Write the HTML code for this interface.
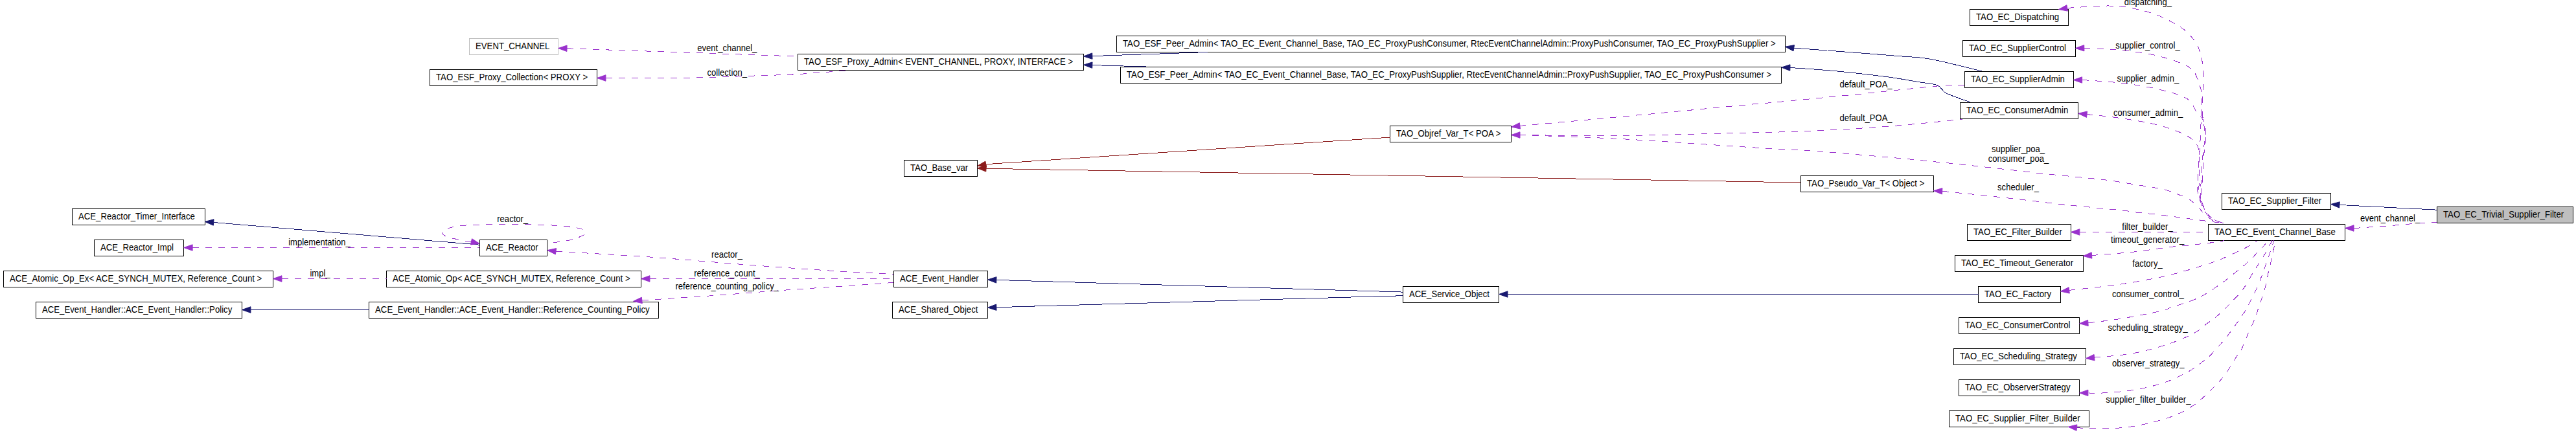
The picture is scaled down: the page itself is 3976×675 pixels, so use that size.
<!DOCTYPE html>
<html><head><meta charset="utf-8"><title>TAO_EC_Trivial_Supplier_Filter collaboration graph</title>
<style>html,body{margin:0;padding:0;background:#fff}svg{display:block}text{font-family:"Liberation Sans",sans-serif;font-size:13.33px;fill:#000}.e{fill:none;stroke-width:1}.d{stroke-dasharray:10 10}</style></head><body>
<svg width="3976" height="675" viewBox="0 0 3976 675">
<rect width="3976" height="675" fill="#fff"/>
<g shape-rendering="crispEdges">
<rect x="724.5" y="59.5" width="137" height="25" fill="#fff" stroke="#bfbfbf"/>
<rect x="663.5" y="107.5" width="258" height="25" fill="#fff" stroke="#000"/>
<rect x="1231.5" y="83.5" width="441" height="25" fill="#fff" stroke="#000"/>
<rect x="1723.5" y="55.5" width="1032" height="25" fill="#fff" stroke="#000"/>
<rect x="1729.5" y="103.5" width="1020" height="25" fill="#fff" stroke="#000"/>
<rect x="3040.5" y="14.5" width="152" height="25" fill="#fff" stroke="#000"/>
<rect x="3029.5" y="62.5" width="174" height="25" fill="#fff" stroke="#000"/>
<rect x="3032.5" y="110.5" width="168" height="25" fill="#fff" stroke="#000"/>
<rect x="3025.5" y="158.5" width="182" height="25" fill="#fff" stroke="#000"/>
<rect x="2145.5" y="194.5" width="187" height="25" fill="#fff" stroke="#000"/>
<rect x="1395.5" y="247.5" width="113" height="25" fill="#fff" stroke="#000"/>
<rect x="2779.5" y="271.5" width="205" height="25" fill="#fff" stroke="#000"/>
<rect x="111.5" y="322.5" width="205" height="25" fill="#fff" stroke="#000"/>
<rect x="145.5" y="370.5" width="138" height="25" fill="#fff" stroke="#000"/>
<rect x="740.5" y="370.5" width="104" height="25" fill="#fff" stroke="#000"/>
<rect x="5.5" y="418.5" width="416" height="25" fill="#fff" stroke="#000"/>
<rect x="596.5" y="418.5" width="393" height="25" fill="#fff" stroke="#000"/>
<rect x="55.5" y="466.5" width="318" height="25" fill="#fff" stroke="#000"/>
<rect x="569.5" y="466.5" width="447" height="25" fill="#fff" stroke="#000"/>
<rect x="1379.5" y="418.5" width="145" height="25" fill="#fff" stroke="#000"/>
<rect x="1377.5" y="466.5" width="147" height="25" fill="#fff" stroke="#000"/>
<rect x="2165.5" y="442.5" width="148" height="25" fill="#fff" stroke="#000"/>
<rect x="3053.5" y="442.5" width="127" height="25" fill="#fff" stroke="#000"/>
<rect x="3023.5" y="490.5" width="186" height="25" fill="#fff" stroke="#000"/>
<rect x="3015.5" y="538.5" width="204" height="25" fill="#fff" stroke="#000"/>
<rect x="3023.5" y="586.5" width="186" height="25" fill="#fff" stroke="#000"/>
<rect x="3008.5" y="634.5" width="216" height="25" fill="#fff" stroke="#000"/>
<rect x="3036.5" y="346.5" width="160" height="25" fill="#fff" stroke="#000"/>
<rect x="3017.5" y="394.5" width="198" height="25" fill="#fff" stroke="#000"/>
<rect x="3408.5" y="346.5" width="211" height="25" fill="#fff" stroke="#000"/>
<rect x="3429.5" y="298.5" width="168" height="25" fill="#fff" stroke="#000"/>
<rect x="3761.5" y="319.5" width="210" height="25" fill="#bfbfbf" stroke="#000"/>
</g><g shape-rendering="crispEdges">
<path class="e d" stroke="#9a32cd" d="M875.0,74.8L1231.0,87.0"/>
<path class="e d" stroke="#9a32cd" d="M935.0,120.5C945.8,120.5 973.7,120.7 1000.0,120.5C1026.3,120.3 1066.2,120.2 1093.0,119.6C1119.8,119.0 1139.9,117.8 1161.0,117.1C1182.1,116.4 1203.3,116.0 1219.5,115.2C1235.7,114.5 1244.2,113.6 1258.4,112.6C1272.7,111.6 1297.2,109.6 1305.0,109.0"/>
<path class="e" stroke="#191970" d="M1685.3,86.6L1864.0,80.5"/>
<path class="e" stroke="#191970" d="M1685.3,100.6L1769.0,103.0"/>
<path class="e" stroke="#191970" d="M2768.4,74.2C2782.2,75.2 2823.7,78.2 2851.0,80.3C2878.3,82.4 2910.4,84.8 2932.0,86.7C2953.6,88.6 2959.1,87.5 2980.3,91.4C3001.5,95.3 3045.9,106.9 3059.0,110.0"/>
<path class="e" stroke="#191970" d="M2763.3,104.5C2774.6,105.3 2806.3,107.2 2831.0,109.5C2855.7,111.8 2889.9,115.7 2911.7,118.6C2933.5,121.5 2948.9,124.5 2962.0,126.7C2975.1,128.9 2983.3,128.8 2990.4,131.7C2997.5,134.6 2996.1,139.9 3004.5,144.2C3012.9,148.5 3034.8,155.4 3040.9,157.7"/>
<path class="e d" stroke="#9a32cd" d="M2345.4,194.4C2371.5,192.1 2442.2,185.9 2501.9,180.3C2561.6,174.8 2664.0,164.8 2703.7,161.1C2743.4,157.4 2713.8,160.5 2740.0,158.0C2766.2,155.5 2819.3,150.4 2861.0,146.2C2902.7,142.0 2961.4,135.5 2990.0,133.0C3018.6,130.5 3025.4,131.3 3032.5,131.0"/>
<path class="e d" stroke="#9a32cd" d="M2345.4,208.5C2371.5,208.7 2442.3,210.1 2502.0,209.5C2561.7,208.9 2664.0,205.8 2703.7,204.9C2743.4,204.0 2718.8,204.9 2740.0,204.2C2761.2,203.5 2799.0,202.4 2831.0,200.7C2863.0,198.9 2899.1,196.4 2932.0,193.7C2964.9,190.9 3012.6,185.8 3028.7,184.2"/>
<path class="e d" stroke="#9a32cd" d="M2345.4,208.5C2371.5,209.5 2442.3,211.4 2502.0,214.6C2561.7,217.8 2654.0,224.6 2703.7,227.7C2753.4,230.8 2764.1,230.8 2800.0,233.4C2835.9,236.0 2879.3,239.7 2919.0,243.3C2958.7,246.9 2998.3,251.0 3038.0,255.2C3077.7,259.4 3122.3,264.8 3157.0,268.5C3191.7,272.2 3225.7,275.1 3246.2,277.5C3266.7,279.9 3264.9,280.2 3280.0,282.6C3295.1,285.0 3324.5,289.4 3336.8,291.9C3349.1,294.4 3347.2,294.9 3353.8,297.4C3360.4,299.8 3370.3,303.3 3376.5,306.6C3382.7,309.9 3386.7,313.6 3390.7,317.3C3394.7,321.0 3397.3,325.3 3400.6,328.6C3403.9,331.9 3407.0,334.5 3410.6,337.2C3414.2,339.9 3420.0,343.7 3421.9,345.0"/>
<path class="e" stroke="#8b1a1a" d="M1521.7,253.7L2145.5,212.1"/>
<path class="e" stroke="#8b1a1a" d="M1521.7,260.3L2779.5,282.0"/>
<path class="e d" stroke="#9a32cd" d="M2997.8,295.3C3014.4,297.0 3066.0,302.2 3097.5,305.7C3129.0,309.2 3156.9,312.9 3186.7,316.1C3216.4,319.3 3258.8,323.2 3276.0,325.1C3293.2,327.0 3279.8,326.0 3289.9,327.2C3300.0,328.4 3321.9,330.4 3336.8,332.2C3351.7,334.0 3365.1,336.0 3379.3,337.9C3393.5,339.8 3413.0,342.2 3421.9,343.5C3430.8,344.8 3431.2,345.2 3433.0,345.5"/>
<path class="e d" stroke="#9a32cd" d="M3191.4,12.3C3202.0,11.8 3238.1,8.9 3255.0,9.0C3271.9,9.1 3280.1,10.7 3292.6,13.1C3305.1,15.5 3317.6,18.5 3330.1,23.5C3342.6,28.5 3358.2,36.8 3367.6,43.2C3377.0,49.6 3381.9,56.3 3386.4,61.9C3390.9,67.5 3392.3,71.0 3394.5,77.0C3396.7,83.0 3398.4,89.9 3399.6,98.1C3400.8,106.3 3401.7,119.3 3401.8,126.3C3402.0,133.3 3401.2,131.5 3400.5,140.0C3399.8,148.5 3398.5,163.9 3397.7,177.5C3396.9,191.1 3396.6,207.7 3395.8,221.8C3395.0,235.9 3393.6,249.6 3393.0,262.0C3392.4,274.4 3391.3,287.5 3392.0,296.0C3392.7,304.5 3394.4,306.9 3397.0,313.0C3399.6,319.1 3403.5,328.2 3407.7,332.9C3411.8,337.6 3417.2,339.2 3421.9,341.4C3426.6,343.6 3433.7,345.2 3436.0,346.0"/>
<path class="e d" stroke="#9a32cd" d="M3216.6,74.3C3224.6,74.7 3247.1,75.0 3264.4,76.6C3281.8,78.2 3303.5,80.5 3320.7,84.1C3337.9,87.7 3356.8,93.6 3367.7,98.1C3378.6,102.6 3381.7,105.3 3386.4,111.3C3391.1,117.2 3393.8,127.8 3395.8,133.8C3397.8,139.8 3398.0,140.2 3398.6,147.5C3399.2,154.8 3398.7,166.2 3399.6,177.5C3400.5,188.8 3404.0,203.8 3404.2,215.0C3404.4,226.2 3401.9,231.5 3401.0,245.0C3400.1,258.5 3398.8,284.7 3398.5,296.0C3398.2,307.3 3397.2,306.9 3399.0,313.0C3400.8,319.1 3405.0,327.8 3409.0,332.5C3413.0,337.2 3418.2,339.2 3423.0,341.5C3427.8,343.8 3435.1,345.2 3437.5,346.0"/>
<path class="e d" stroke="#9a32cd" d="M3213.8,123.5C3223.8,124.3 3254.4,125.8 3273.8,128.2C3293.2,130.5 3313.2,133.6 3330.1,137.6C3347.0,141.6 3365.2,146.3 3375.2,152.2C3385.2,158.1 3385.8,167.0 3390.2,172.8C3394.6,178.6 3399.1,181.4 3401.4,186.9C3403.7,192.4 3404.4,196.8 3404.2,205.7C3404.0,214.5 3401.3,224.9 3400.0,240.0C3398.7,255.1 3396.8,283.8 3396.5,296.0C3396.2,308.2 3396.9,308.3 3398.0,313.0C3399.1,317.7 3402.2,322.2 3403.0,324.0"/>
<path class="e d" stroke="#9a32cd" d="M3220.3,176.6C3227.7,177.4 3247.7,179.0 3264.4,181.3C3281.1,183.7 3305.0,187.3 3320.7,190.7C3336.3,194.1 3348.3,198.2 3358.3,201.9C3368.3,205.7 3375.2,209.2 3380.8,213.2C3386.4,217.2 3389.6,219.9 3392.0,226.0C3394.4,232.1 3394.7,238.3 3395.0,250.0C3395.3,261.7 3393.6,285.5 3394.0,296.0C3394.4,306.5 3396.9,310.2 3397.5,313.0"/>
<path class="e d" stroke="#9a32cd" d="M3209.6,358.5L3408.0,358.5"/>
<path class="e d" stroke="#9a32cd" d="M3228.4,394.5C3239.1,393.6 3273.2,391.3 3292.6,389.2C3312.0,387.1 3332.9,383.6 3344.8,382.1C3356.7,380.6 3357.6,380.8 3364.0,380.2C3370.4,379.6 3377.4,379.2 3383.3,378.6C3389.2,378.0 3393.7,377.2 3399.3,376.5C3404.9,375.8 3411.3,375.1 3416.9,374.3C3422.5,373.5 3430.2,372.1 3432.9,371.7"/>
<path class="e d" stroke="#9a32cd" d="M3193.0,448.5C3206.5,446.9 3251.0,442.2 3273.8,439.0C3296.6,435.8 3317.6,431.3 3330.0,429.0C3342.4,426.7 3341.5,426.6 3348.0,425.0C3354.5,423.4 3362.1,421.4 3368.8,419.5C3375.5,417.6 3381.8,415.8 3388.0,413.9C3394.2,412.0 3399.5,410.3 3405.7,408.3C3411.8,406.3 3418.8,404.2 3424.9,401.8C3431.0,399.4 3436.1,396.7 3442.5,393.8C3448.9,390.9 3456.5,387.8 3463.4,384.2C3470.3,380.6 3480.7,374.2 3484.2,372.2"/>
<path class="e d" stroke="#9a32cd" d="M3223.5,498.8C3231.9,497.7 3254.8,495.3 3273.8,492.2C3292.8,489.1 3325.1,482.8 3337.6,480.0C3350.1,477.2 3339.2,479.2 3348.9,475.7C3358.6,472.2 3381.7,465.7 3395.8,458.8C3409.9,451.9 3424.4,440.5 3433.3,434.4C3442.2,428.2 3444.9,425.2 3449.0,421.9C3453.1,418.6 3454.6,417.2 3457.7,414.7C3460.8,412.2 3463.9,409.8 3467.4,406.7C3470.9,403.6 3475.5,399.4 3478.6,396.2C3481.7,393.0 3483.3,390.1 3485.8,387.4C3488.3,384.7 3491.4,382.8 3493.8,380.2C3496.2,377.6 3499.0,373.4 3500.0,372.0"/>
<path class="e d" stroke="#9a32cd" d="M3232.5,552.2C3242.5,551.1 3273.2,549.3 3292.6,545.7C3312.0,542.1 3333.3,535.9 3348.9,530.7C3364.5,525.5 3377.0,519.7 3386.4,514.7C3395.8,509.7 3399.6,504.8 3405.2,500.6C3410.8,496.5 3414.6,494.6 3420.2,489.8C3425.8,485.0 3432.1,478.9 3439.0,471.9C3445.9,464.8 3455.2,455.8 3461.5,447.5C3467.8,439.2 3473.2,428.0 3477.0,421.9C3480.8,415.8 3481.8,414.4 3484.2,410.7C3486.6,406.9 3489.4,402.6 3491.4,399.4C3493.4,396.2 3494.1,395.1 3496.2,391.4C3498.3,387.7 3502.4,380.3 3504.2,377.0C3506.0,373.7 3506.5,372.4 3507.0,371.5"/>
<path class="e d" stroke="#9a32cd" d="M3223.5,606.9C3226.6,607.0 3230.4,607.9 3241.9,607.2C3253.4,606.5 3276.3,605.1 3292.6,602.5C3308.9,599.9 3325.4,596.0 3339.5,591.3C3353.6,586.6 3366.5,580.2 3377.0,574.4C3387.5,568.6 3396.1,561.4 3402.4,556.6C3408.7,551.8 3408.5,552.2 3414.6,545.7C3420.7,539.2 3431.3,527.2 3439.0,517.5C3446.7,507.8 3455.5,494.8 3460.5,487.5C3465.5,480.2 3465.1,481.1 3469.0,473.8C3472.9,466.5 3480.0,452.7 3484.0,443.8C3488.0,434.9 3491.0,425.7 3493.0,420.3C3495.0,414.9 3495.1,414.4 3496.2,411.5C3497.3,408.6 3498.3,405.7 3499.4,402.6C3500.5,399.5 3501.4,396.6 3502.6,393.0C3503.8,389.4 3505.4,384.6 3506.6,381.0C3507.8,377.4 3509.4,373.1 3510.0,371.5"/>
<path class="e d" stroke="#9a32cd" d="M3205.3,660.6C3208.6,660.8 3215.2,661.4 3225.0,661.5C3234.8,661.6 3251.6,662.3 3264.4,661.5C3277.2,660.7 3287.9,659.6 3302.0,656.8C3316.1,654.0 3335.2,649.6 3348.9,644.6C3362.7,639.6 3374.0,633.7 3384.5,626.8C3395.0,619.9 3403.7,611.1 3411.8,603.3C3419.9,595.5 3426.6,588.7 3433.3,580.0C3440.0,571.3 3448.0,556.9 3452.1,550.9C3456.2,544.9 3454.9,549.4 3457.7,543.8C3460.5,538.2 3465.1,526.4 3469.0,517.5C3472.9,508.6 3478.4,497.3 3481.2,490.3C3484.0,483.3 3483.6,482.8 3485.9,475.7C3488.2,468.6 3492.7,457.1 3495.3,447.5C3498.0,437.9 3500.3,424.3 3501.8,417.9C3503.3,411.5 3503.4,412.4 3504.2,409.0C3505.0,405.6 3505.9,401.1 3506.6,397.8C3507.3,394.5 3507.5,392.1 3508.2,389.0C3508.9,385.9 3509.8,382.3 3510.6,379.4C3511.3,376.5 3512.3,372.7 3512.7,371.4"/>
<path class="e" stroke="#191970" d="M3611.5,316.5L3761.4,324.2"/>
<path class="e d" stroke="#9a32cd" d="M3633.0,352.5C3642.1,351.9 3670.8,350.1 3687.6,348.8C3704.4,347.5 3721.4,345.7 3733.7,344.8C3746.0,343.9 3756.8,343.6 3761.4,343.4"/>
<path class="e" stroke="#191970" d="M2327.0,454.5L3053.5,454.5"/>
<path class="e" stroke="#191970" d="M1537.6,432.4L2165.4,451.1"/>
<path class="e" stroke="#191970" d="M1537.6,474.7L2165.4,456.7"/>
<path class="e d" stroke="#9a32cd" d="M858.1,388.3C882.0,389.7 949.1,393.2 1001.6,396.9C1054.1,400.6 1121.7,406.8 1173.2,410.6C1224.7,414.4 1276.1,417.8 1310.4,419.9C1344.7,422.0 1367.6,422.7 1379.0,423.3"/>
<path class="e d" stroke="#9a32cd" d="M1003.0,430.5L1379.0,430.5"/>
<path class="e d" stroke="#9a32cd" d="M991.0,463.9C1009.9,462.6 1068.4,458.9 1104.5,456.3C1140.6,453.7 1173.2,450.9 1207.5,448.4C1241.8,445.9 1281.8,443.5 1310.4,441.5C1339.0,439.5 1367.6,437.2 1379.0,436.4"/>
<path class="e" stroke="#191970" d="M329.7,343.5L740.3,378.2"/>
<path class="e d" stroke="#9a32cd" d="M296.7,382.5L740.0,382.5"/>
<path class="e d" stroke="#9a32cd" d="M727.8,373.4C725.4,373.0 719.0,372.3 713.2,371.2C707.4,370.1 697.8,368.1 693.1,366.7C688.4,365.3 686.6,364.2 684.8,363.0C683.0,361.8 682.2,360.4 682.1,359.3C682.0,358.2 682.4,357.7 683.9,356.6C685.4,355.5 688.2,354.0 691.2,352.9C694.2,351.8 697.0,351.0 702.2,350.2C707.4,349.4 707.5,348.5 722.4,347.8C737.3,347.1 769.0,346.1 791.9,346.2C814.8,346.3 844.4,347.6 859.6,348.4C874.9,349.1 877.3,349.9 883.4,350.7C889.5,351.5 893.0,352.3 896.2,353.3C899.4,354.3 901.4,355.6 902.6,356.6C903.8,357.6 904.0,358.1 903.5,359.3C903.0,360.5 902.3,362.2 899.9,363.6C897.5,365.1 892.6,366.7 888.9,368.0C885.2,369.3 882.8,370.2 877.9,371.2C873.0,372.2 865.1,373.2 859.6,374.0C854.1,374.8 847.1,375.5 844.6,375.8"/>
<path class="e d" stroke="#9a32cd" d="M435.0,430.5L596.5,430.5"/>
<path class="e" stroke="#191970" d="M387.0,478.5L569.5,478.5"/>
</g><g>
<polygon points="861.7,74.5 874.9,79.5 875.1,70.1" fill="#9a32cd" stroke="#9a32cd" stroke-width="1"/>
<polygon points="921.6,120.5 934.9,125.2 934.9,115.8" fill="#9a32cd" stroke="#9a32cd" stroke-width="1"/>
<polygon points="1672.6,87.0 1686.0,91.3 1685.7,81.9" fill="#191970" stroke="#191970" stroke-width="1"/>
<polygon points="1672.6,100.2 1685.7,105.3 1686.0,95.9" fill="#191970" stroke="#191970" stroke-width="1"/>
<polygon points="2755.6,72.2 2768.0,78.9 2769.5,69.6" fill="#191970" stroke="#191970" stroke-width="1"/>
<polygon points="2749.6,104.1 2762.8,109.2 2763.0,99.8" fill="#191970" stroke="#191970" stroke-width="1"/>
<polygon points="2332.7,196.0 2346.5,199.0 2345.3,189.7" fill="#9a32cd" stroke="#9a32cd" stroke-width="1"/>
<polygon points="2332.7,208.5 2346.0,213.2 2346.0,203.8" fill="#9a32cd" stroke="#9a32cd" stroke-width="1"/>
<polygon points="1508.7,256.2 1522.6,258.3 1520.9,249.1" fill="#8b1a1a" stroke="#8b1a1a" stroke-width="1"/>
<polygon points="1508.7,259.8 1521.8,265.0 1522.2,255.6" fill="#8b1a1a" stroke="#8b1a1a" stroke-width="1"/>
<polygon points="2984.4,294.7 2997.5,300.0 2997.9,290.6" fill="#9a32cd" stroke="#9a32cd" stroke-width="1"/>
<polygon points="3177.5,14.5 3191.4,17.1 3189.9,7.8" fill="#9a32cd" stroke="#9a32cd" stroke-width="1"/>
<polygon points="3203.5,74.5 3216.9,79.0 3216.7,69.6" fill="#9a32cd" stroke="#9a32cd" stroke-width="1"/>
<polygon points="3200.3,123.5 3213.6,128.2 3213.6,118.8" fill="#9a32cd" stroke="#9a32cd" stroke-width="1"/>
<polygon points="3207.8,175.3 3220.5,181.4 3221.5,172.0" fill="#9a32cd" stroke="#9a32cd" stroke-width="1"/>
<polygon points="3196.5,358.5 3209.8,363.2 3209.8,353.8" fill="#9a32cd" stroke="#9a32cd" stroke-width="1"/>
<polygon points="3215.3,395.4 3228.9,399.2 3228.2,389.8" fill="#9a32cd" stroke="#9a32cd" stroke-width="1"/>
<polygon points="3180.5,450.0 3194.3,453.1 3193.1,443.7" fill="#9a32cd" stroke="#9a32cd" stroke-width="1"/>
<polygon points="3209.6,499.7 3223.2,503.5 3222.6,494.2" fill="#9a32cd" stroke="#9a32cd" stroke-width="1"/>
<polygon points="3219.4,553.6 3233.1,556.9 3232.1,547.5" fill="#9a32cd" stroke="#9a32cd" stroke-width="1"/>
<polygon points="3209.6,606.9 3222.9,611.6 3222.9,602.2" fill="#9a32cd" stroke="#9a32cd" stroke-width="1"/>
<polygon points="3192.2,659.3 3205.0,665.3 3205.9,655.9" fill="#9a32cd" stroke="#9a32cd" stroke-width="1"/>
<polygon points="3597.7,315.5 3610.6,321.1 3611.3,311.8" fill="#191970" stroke="#191970" stroke-width="1"/>
<polygon points="3619.7,352.5 3633.0,357.2 3633.0,347.8" fill="#9a32cd" stroke="#9a32cd" stroke-width="1"/>
<polygon points="2313.7,454.5 2327.0,459.2 2327.0,449.8" fill="#191970" stroke="#191970" stroke-width="1"/>
<polygon points="1524.6,432.0 1537.7,437.1 1538.0,427.7" fill="#191970" stroke="#191970" stroke-width="1"/>
<polygon points="1524.6,475.1 1538.0,479.4 1537.7,470.0" fill="#191970" stroke="#191970" stroke-width="1"/>
<polygon points="844.8,386.6 857.4,392.9 858.6,383.6" fill="#9a32cd" stroke="#9a32cd" stroke-width="1"/>
<polygon points="989.6,430.5 1002.9,435.2 1002.9,425.8" fill="#9a32cd" stroke="#9a32cd" stroke-width="1"/>
<polygon points="977.6,465.3 991.3,468.6 990.3,459.2" fill="#9a32cd" stroke="#9a32cd" stroke-width="1"/>
<polygon points="316.4,342.4 329.3,348.2 330.0,338.8" fill="#191970" stroke="#191970" stroke-width="1"/>
<polygon points="283.8,382.5 297.1,387.2 297.1,377.8" fill="#9a32cd" stroke="#9a32cd" stroke-width="1"/>
<polygon points="740.3,376.4 728.5,368.7 726.3,377.9" fill="#9a32cd" stroke="#9a32cd" stroke-width="1"/>
<polygon points="421.6,430.5 434.9,435.2 434.9,425.8" fill="#9a32cd" stroke="#9a32cd" stroke-width="1"/>
<polygon points="373.6,478.5 386.9,483.2 386.9,473.8" fill="#191970" stroke="#191970" stroke-width="1"/>
</g><g text-anchor="middle">
<text text-anchor="start" transform="translate(734,76) scale(0.99,1.07)">EVENT_CHANNEL</text>
<text text-anchor="start" transform="translate(673,124) scale(0.99,1.07)">TAO_ESF_Proxy_Collection&lt; PROXY &gt;</text>
<text text-anchor="start" transform="translate(1241,100) scale(0.99,1.07)">TAO_ESF_Proxy_Admin&lt; EVENT_CHANNEL, PROXY, INTERFACE &gt;</text>
<text text-anchor="start" transform="translate(1733,72) scale(0.995,1.07)">TAO_ESF_Peer_Admin&lt; TAO_EC_Event_Channel_Base, TAO_EC_ProxyPushConsumer, RtecEventChannelAdmin::ProxyPushConsumer, TAO_EC_ProxyPushSupplier &gt;</text>
<text text-anchor="start" transform="translate(1739,120) scale(0.995,1.07)">TAO_ESF_Peer_Admin&lt; TAO_EC_Event_Channel_Base, TAO_EC_ProxyPushSupplier, RtecEventChannelAdmin::ProxyPushSupplier, TAO_EC_ProxyPushConsumer &gt;</text>
<text text-anchor="start" transform="translate(3050,31) scale(0.99,1.07)">TAO_EC_Dispatching</text>
<text text-anchor="start" transform="translate(3039,79) scale(0.99,1.07)">TAO_EC_SupplierControl</text>
<text text-anchor="start" transform="translate(3042,127) scale(0.99,1.07)">TAO_EC_SupplierAdmin</text>
<text text-anchor="start" transform="translate(3035,175) scale(0.99,1.07)">TAO_EC_ConsumerAdmin</text>
<text text-anchor="start" transform="translate(2155,211) scale(0.99,1.07)">TAO_Objref_Var_T&lt; POA &gt;</text>
<text text-anchor="start" transform="translate(1405,264) scale(0.99,1.07)">TAO_Base_var</text>
<text text-anchor="start" transform="translate(2789,288) scale(0.99,1.07)">TAO_Pseudo_Var_T&lt; Object &gt;</text>
<text text-anchor="start" transform="translate(121,339) scale(0.99,1.07)">ACE_Reactor_Timer_Interface</text>
<text text-anchor="start" transform="translate(155,387) scale(0.99,1.07)">ACE_Reactor_Impl</text>
<text text-anchor="start" transform="translate(750,387) scale(0.99,1.07)">ACE_Reactor</text>
<text text-anchor="start" transform="translate(15,435) scale(0.99,1.07)">ACE_Atomic_Op_Ex&lt; ACE_SYNCH_MUTEX, Reference_Count &gt;</text>
<text text-anchor="start" transform="translate(606,435) scale(0.99,1.07)">ACE_Atomic_Op&lt; ACE_SYNCH_MUTEX, Reference_Count &gt;</text>
<text text-anchor="start" transform="translate(65,483) scale(0.99,1.07)">ACE_Event_Handler::ACE_Event_Handler::Policy</text>
<text text-anchor="start" transform="translate(579,483) scale(0.995,1.07)">ACE_Event_Handler::ACE_Event_Handler::Reference_Counting_Policy</text>
<text text-anchor="start" transform="translate(1389,435) scale(0.99,1.07)">ACE_Event_Handler</text>
<text text-anchor="start" transform="translate(1387,483) scale(0.99,1.07)">ACE_Shared_Object</text>
<text text-anchor="start" transform="translate(2175,459) scale(0.99,1.07)">ACE_Service_Object</text>
<text text-anchor="start" transform="translate(3063,459) scale(0.99,1.07)">TAO_EC_Factory</text>
<text text-anchor="start" transform="translate(3033,507) scale(0.99,1.07)">TAO_EC_ConsumerControl</text>
<text text-anchor="start" transform="translate(3025,555) scale(0.99,1.07)">TAO_EC_Scheduling_Strategy</text>
<text text-anchor="start" transform="translate(3033,603) scale(0.99,1.07)">TAO_EC_ObserverStrategy</text>
<text text-anchor="start" transform="translate(3018,651) scale(0.99,1.07)">TAO_EC_Supplier_Filter_Builder</text>
<text text-anchor="start" transform="translate(3046,363) scale(0.99,1.07)">TAO_EC_Filter_Builder</text>
<text text-anchor="start" transform="translate(3027,411) scale(0.99,1.07)">TAO_EC_Timeout_Generator</text>
<text text-anchor="start" transform="translate(3418,363) scale(0.99,1.07)">TAO_EC_Event_Channel_Base</text>
<text text-anchor="start" transform="translate(3439,315) scale(0.99,1.07)">TAO_EC_Supplier_Filter</text>
<text text-anchor="start" transform="translate(3771,336) scale(0.99,1.07)">TAO_EC_Trivial_Supplier_Filter</text>
<text transform="translate(1122.3,79) scale(0.98,1.07)">event_channel_</text>
<text transform="translate(1122.3,117) scale(0.98,1.07)">collection_</text>
<text transform="translate(2880,135) scale(0.98,1.07)">default_POA_</text>
<text transform="translate(2880,186.6) scale(0.98,1.07)">default_POA_</text>
<text transform="translate(3315.4,8) scale(0.98,1.07)">dispatching_</text>
<text transform="translate(3315,75) scale(0.98,1.07)">supplier_control_</text>
<text transform="translate(3315.3,126) scale(0.98,1.07)">supplier_admin_</text>
<text transform="translate(3315.6,178.5) scale(0.98,1.07)">consumer_admin_</text>
<text transform="translate(3115,235) scale(0.98,1.07)">supplier_poa_</text>
<text transform="translate(3115.5,250) scale(0.98,1.07)">consumer_poa_</text>
<text transform="translate(3115,294) scale(0.98,1.07)">scheduler_</text>
<text transform="translate(3314.5,355) scale(0.98,1.07)">filter_builder_</text>
<text transform="translate(3314.6,375) scale(0.98,1.07)">timeout_generator_</text>
<text transform="translate(3314.5,412) scale(0.98,1.07)">factory_</text>
<text transform="translate(3315.4,459) scale(0.98,1.07)">consumer_control_</text>
<text transform="translate(3315.1,511) scale(0.98,1.07)">scheduling_strategy_</text>
<text transform="translate(3315.8,566) scale(0.98,1.07)">observer_strategy_</text>
<text transform="translate(3315.8,622) scale(0.98,1.07)">supplier_filter_builder_</text>
<text transform="translate(3689,341.6) scale(0.98,1.07)">event_channel_</text>
<text transform="translate(791.2,343) scale(0.98,1.07)">reactor_</text>
<text transform="translate(493,379) scale(0.98,1.07)">implementation_</text>
<text transform="translate(494,427) scale(0.98,1.07)">impl_</text>
<text transform="translate(1122,398) scale(0.98,1.07)">reactor_</text>
<text transform="translate(1122,427) scale(0.98,1.07)">reference_count_</text>
<text transform="translate(1122.2,446.7) scale(0.98,1.07)">reference_counting_policy_</text>
</g></svg></body></html>
